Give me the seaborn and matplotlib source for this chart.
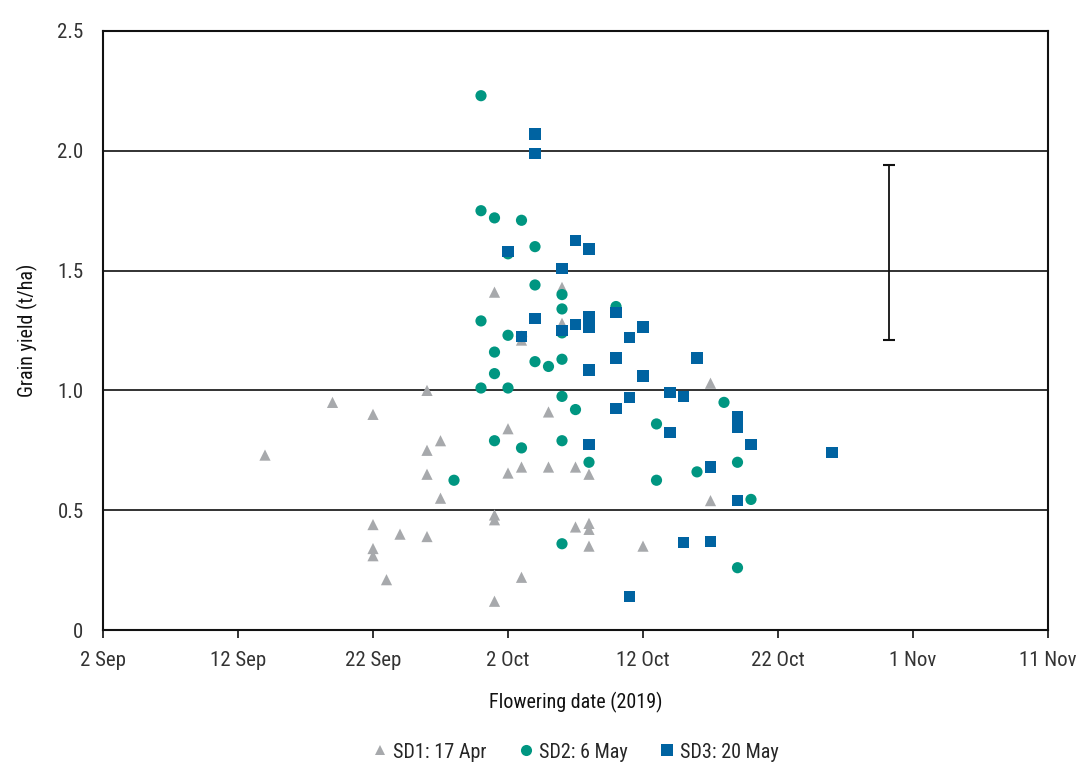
import matplotlib
matplotlib.use("Agg")
import matplotlib.pyplot as plt
from matplotlib import font_manager
from matplotlib.lines import Line2D
import seaborn as sns
import pandas as pd

# ---- data (flowering date in 2019, grain yield t/ha) ----
sd1_dates = ["09-14", "09-19", "09-22", "09-22", "09-22", "09-22", "09-23", "09-24",
             "09-26", "09-26", "09-26", "09-26", "09-27", "09-27",
             "10-01", "10-01", "10-01", "10-01", "10-02", "10-02",
             "10-03", "10-03", "10-03", "10-05", "10-05", "10-06", "10-06",
             "10-07", "10-07", "10-08", "10-08", "10-08", "10-08",
             "10-12", "10-17", "10-17"]
sd1_yield = [0.73, 0.95, 0.90, 0.44, 0.34, 0.31, 0.21, 0.40,
             1.00, 0.75, 0.65, 0.39, 0.79, 0.55,
             1.41, 0.48, 0.46, 0.12, 0.84, 0.655,
             1.21, 0.68, 0.22, 0.91, 0.68, 1.43, 1.28,
             0.68, 0.43, 0.65, 0.445, 0.42, 0.35,
             0.35, 1.03, 0.54]

sd2_dates = ["09-28", "09-30", "09-30", "09-30", "09-30", "10-01", "10-01", "10-01", "10-01",
             "10-02", "10-02", "10-02", "10-03", "10-03", "10-03",
             "10-04", "10-04", "10-04", "10-05",
             "10-06", "10-06", "10-06", "10-06", "10-06", "10-06", "10-06",
             "10-07", "10-08", "10-10", "10-13", "10-13", "10-16", "10-18",
             "10-19", "10-19", "10-20"]
sd2_yield = [0.625, 2.23, 1.75, 1.29, 1.01, 1.72, 1.16, 1.07, 0.79,
             1.57, 1.23, 1.01, 1.71, 1.225, 0.76,
             1.60, 1.44, 1.12, 1.10,
             1.40, 1.34, 1.24, 1.13, 0.975, 0.79, 0.36,
             0.92, 0.70, 1.35, 0.86, 0.625, 0.66, 0.95,
             0.70, 0.26, 0.545]

sd3_dates = ["10-02", "10-03", "10-04", "10-04", "10-04", "10-06", "10-06",
             "10-07", "10-07", "10-08", "10-08", "10-08", "10-08", "10-08",
             "10-10", "10-10", "10-10", "10-11", "10-11", "10-11",
             "10-12", "10-12", "10-14", "10-14", "10-15", "10-15", "10-16",
             "10-17", "10-17", "10-19", "10-19", "10-19", "10-20", "10-26"]
sd3_yield = [1.58, 1.225, 2.07, 1.99, 1.30, 1.51, 1.25,
             1.625, 1.275, 1.59, 1.31, 1.265, 1.085, 0.775,
             1.325, 1.135, 0.925, 1.22, 0.97, 0.14,
             1.265, 1.06, 0.99, 0.825, 0.975, 0.365, 1.135,
             0.68, 0.37, 0.89, 0.845, 0.54, 0.775, 0.74]

series_names = ["SD1: 17 Apr", "SD2: 6 May", "SD3: 20 May"]
series_colors = ["#a7a9ac", "#009681", "#0063a1"]
series_markers = ["^", "o", "s"]

# LSD-type error bar
errbar_date = "10-30 05:00"
errbar_center = 1.575
errbar_half = 0.365

xtick_dates = ["09-02", "09-12", "09-22", "10-02", "10-12", "10-22", "11-01", "11-11"]
xtick_labels = ["2 Sep", "12 Sep", "22 Sep", "2 Oct", "12 Oct", "22 Oct", "1 Nov", "11 Nov"]
ytick_vals = [0, 0.5, 1.0, 1.5, 2.0, 2.5]
ytick_labels = ["0", "0.5", "1.0", "1.5", "2.0", "2.5"]


def to_dt(s):
    return pd.to_datetime("2019-" + s)


frames = []
for name, d, y in zip(series_names, [sd1_dates, sd2_dates, sd3_dates],
                      [sd1_yield, sd2_yield, sd3_yield]):
    frames.append(pd.DataFrame({"date": [to_dt(s) for s in d], "yield": y, "Sowing": name}))
df = pd.concat(frames, ignore_index=True)

sns.set_theme(style="white")
avail = {f.name for f in font_manager.fontManager.ttflist}
fam = "DejaVu Sans"
for cand in ["Liberation Sans Narrow", "Roboto Condensed", "Open Sans Condensed",
             "Noto Sans Condensed", "DejaVu Sans Condensed", "Roboto", "Lato", "Liberation Sans"]:
    if cand in avail:
        fam = cand
        break
plt.rcParams["font.family"] = [fam, "DejaVu Sans"]
if fam == "DejaVu Sans":
    plt.rcParams["font.stretch"] = "condensed"

fig = plt.figure(figsize=(10.77, 7.67), dpi=100)
ax = fig.add_axes([103 / 1077, 1 - 630 / 767, (1048 - 103) / 1077, (630 - 31) / 767])

sns.scatterplot(data=df, x="date", y="yield", hue="Sowing", style="Sowing",
                hue_order=series_names, style_order=series_names,
                palette=dict(zip(series_names, series_colors)),
                markers=dict(zip(series_names, series_markers)),
                s=65, linewidth=0, ax=ax, zorder=3, legend=False)

for v in ytick_vals[1:-1]:
    ax.axhline(v, color="#222222", lw=1.3, zorder=1)

ax.errorbar([to_dt(errbar_date)], [errbar_center], yerr=[errbar_half],
            fmt="none", ecolor="#111111", elinewidth=1.3, capsize=4, capthick=1.5, zorder=4)

ax.set_xlim(to_dt(xtick_dates[0]), to_dt(xtick_dates[-1]))
ax.set_ylim(0, 2.5)
ax.set_xticks([to_dt(s) for s in xtick_dates])
ax.set_xticklabels(xtick_labels)
ax.set_yticks(ytick_vals)
ax.set_yticklabels(ytick_labels)

for sp in ax.spines.values():
    sp.set_visible(True)
    sp.set_color("#111111")
    sp.set_linewidth(1.5)

ax.tick_params(axis="x", direction="out", length=6, width=1.2, color="#111111",
               labelsize=15, pad=9, bottom=True)
ax.tick_params(axis="y", length=0, labelsize=15, pad=14)
for lab in ax.get_xticklabels() + ax.get_yticklabels():
    lab.set_color("#333333")

ax.set_xlabel("Flowering date (2019)", fontsize=14.5, labelpad=16, color="#111111")
ax.set_ylabel("Grain yield (t/ha)", fontsize=14.5, labelpad=14, color="#111111")

handles = [Line2D([0], [0], marker=m, color="none", markerfacecolor=c, markeredgewidth=0,
                  markersize=8 if m != "^" else 7)
           for m, c in zip(series_markers, series_colors)]
fig.legend(handles, series_names, loc="center", bbox_to_anchor=(0.535, 1 - 752 / 767),
           ncol=3, frameon=False, fontsize=14.5, handlelength=0.7, handletextpad=0.3,
           columnspacing=1.6)

fig.savefig("out.png", dpi=100)
